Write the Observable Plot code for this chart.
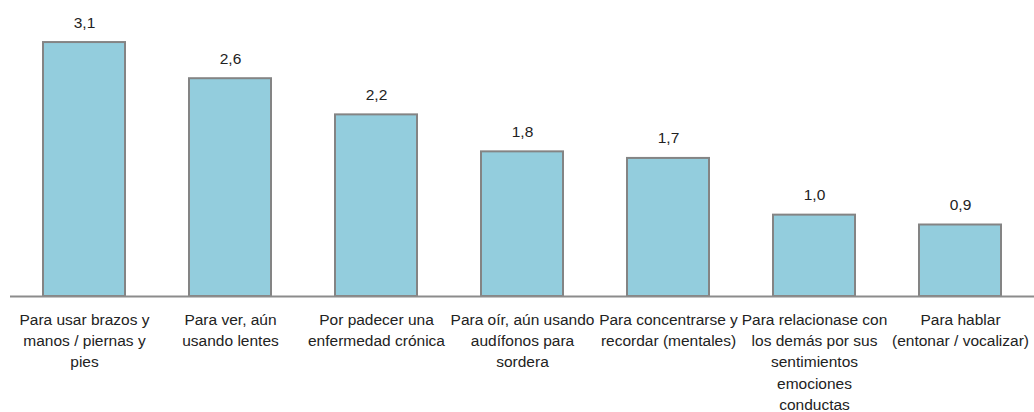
<!DOCTYPE html>
<html>
<head>
<meta charset="utf-8">
<script src="https://cdn.jsdelivr.net/npm/d3@7"></script>
<script src="https://cdn.jsdelivr.net/npm/@observablehq/plot@0.6"></script>
<style>
  html, body { margin: 0; padding: 0; background: #fff; }
  #chart svg { display: block; }
</style>
</head>
<body>
<div id="chart"></div>
<script>
const categories = [
  "Para usar brazos y\nmanos / piernas y\npies",
  "Para ver, aún\nusando lentes",
  "Por padecer una\nenfermedad crónica",
  "Para oír, aún usando\naudífonos para\nsordera",
  "Para concentrarse y\nrecordar (mentales)",
  "Para relacionase con\nlos demás por sus\nsentimientos\nemociones\nconductas",
  "Para hablar\n(entonar / vocalizar)"
];
// bar heights
const values = [3.09, 2.65, 2.21, 1.76, 1.68, 0.99, 0.87];
// data labels as printed on the picture
const valueLabels = ["3,1", "2,6", "2,2", "1,8", "1,7", "1,0", "0,9"];

const data = categories.map((c, i) => ({cat: c, value: values[i], label: valueLabels[i]}));

const chart = Plot.plot({
  width: 1034,
  height: 412,
  marginLeft: 10,
  marginRight: 0,
  marginTop: 10,
  marginBottom: 116,
  style: {fontFamily: "'Liberation Sans', Arial, sans-serif", fontSize: "15.5px", color: "#222", background: "#fff"},
  x: {domain: categories, paddingInner: 0.44, paddingOuter: 0.22, axis: null},
  y: {domain: [0, 3.48], axis: null},
  marks: [
    Plot.barY(data, {x: "cat", y: "value", fill: "#93CDDD", stroke: "#848484", strokeWidth: 2}),
    Plot.ruleY([0], {stroke: "#8c8c8c", strokeWidth: 2}),
    Plot.text(data, {x: "cat", y: "value", text: "label", dy: -20, fontSize: 15.5, fill: "#222"}),
    Plot.text(data, {x: "cat", y: 0, text: "cat", lineAnchor: "top", dy: 13, lineHeight: 1.38, fontSize: 15.5, fill: "#222"})
  ]
});
document.getElementById("chart").appendChild(chart);
</script>
</body>
</html>
